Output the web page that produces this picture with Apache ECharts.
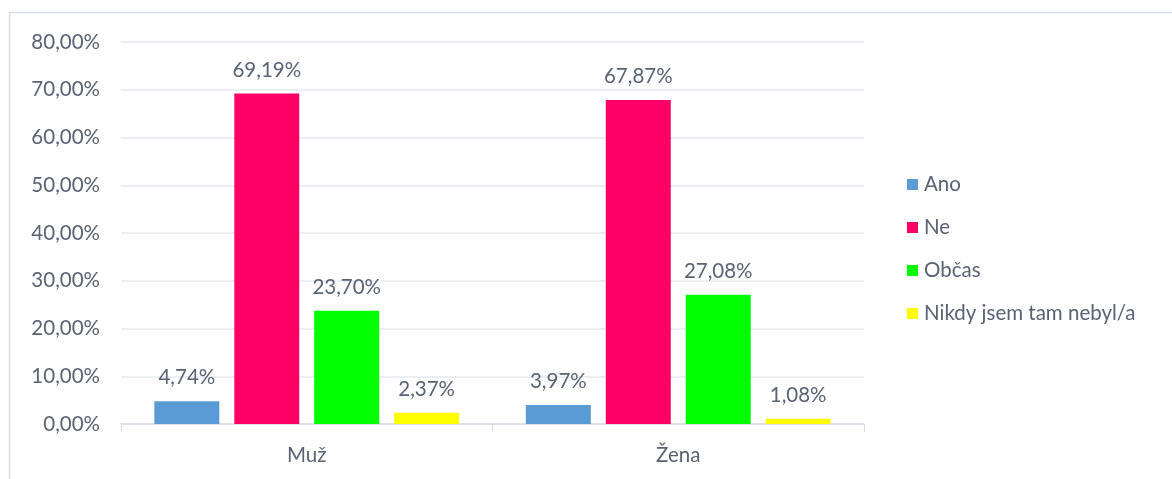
<!DOCTYPE html>
<html><head><meta charset="utf-8">
<script src="https://cdn.jsdelivr.net/npm/echarts@6/dist/echarts.min.js"></script>
<style>html,body{margin:0;padding:0;background:#fff}#c{width:1172px;height:479px}</style>
</head><body><div id="c"></div>
<script>
const categories = ['Muž', 'Žena'];
const seriesNames = ['Ano', 'Ne', 'Občas', 'Nikdy jsem tam nebyl/a'];
const ano = [4.74, 3.97];
const ne = [69.19, 67.87];
const obcas = [23.70, 27.08];
const nikdy = [2.37, 1.08];
const colors = ['#5b9bd5', '#ff0066', '#00ff00', '#ffff00'];
const fmt = v => v.toFixed(2).replace('.', ',') + '%';
const txt = '#5a6374';
const font = 'Lato, "Open Sans", sans-serif';
const fs = 20.5;
const chart = echarts.init(document.getElementById('c'));
const vals = [ano, ne, obcas, nikdy];
chart.setOption({
  animation: false,
  textStyle: { fontFamily: font },
  graphic: [{ type: 'rect', shape: { x: 9.5, y: 12.5, width: 1200, height: 500 }, style: { fill: 'none', stroke: '#d9dee5', lineWidth: 1.5 } }],
  grid: { left: 121, right: 308, top: 42, bottom: 55 },
  legend: {
    orient: 'vertical', left: 902, top: 169, itemWidth: 11, itemHeight: 11, itemGap: 22,
    icon: 'rect', textStyle: { fontSize: fs, color: txt, fontFamily: font, padding: [0, 0, 0, 1] },
    data: seriesNames
  },
  xAxis: {
    type: 'category', data: categories,
    axisLine: { lineStyle: { color: '#d9dee5', width: 1.5 } },
    axisTick: { show: true, length: 8, lineStyle: { color: '#d9dee5' } },
    axisLabel: { fontSize: fs, color: txt, margin: 21, fontFamily: font }
  },
  yAxis: {
    type: 'value', min: 0, max: 80, interval: 10,
    axisLine: { show: false }, axisTick: { show: false },
    splitLine: { lineStyle: { color: '#e4e8ee', width: 1.5 } },
    axisLabel: { fontSize: fs, color: txt, margin: 21, fontFamily: font, formatter: v => fmt(v) }
  },
  series: seriesNames.map((n, i) => ({
    name: n, type: 'bar', data: vals[i], barWidth: 65, barGap: '23%',
    itemStyle: { color: colors[i] },
    label: { show: true, position: 'top', distance: 13, fontSize: fs, color: txt, fontFamily: font, formatter: p => fmt(p.value) }
  }))
});
</script></body></html>
